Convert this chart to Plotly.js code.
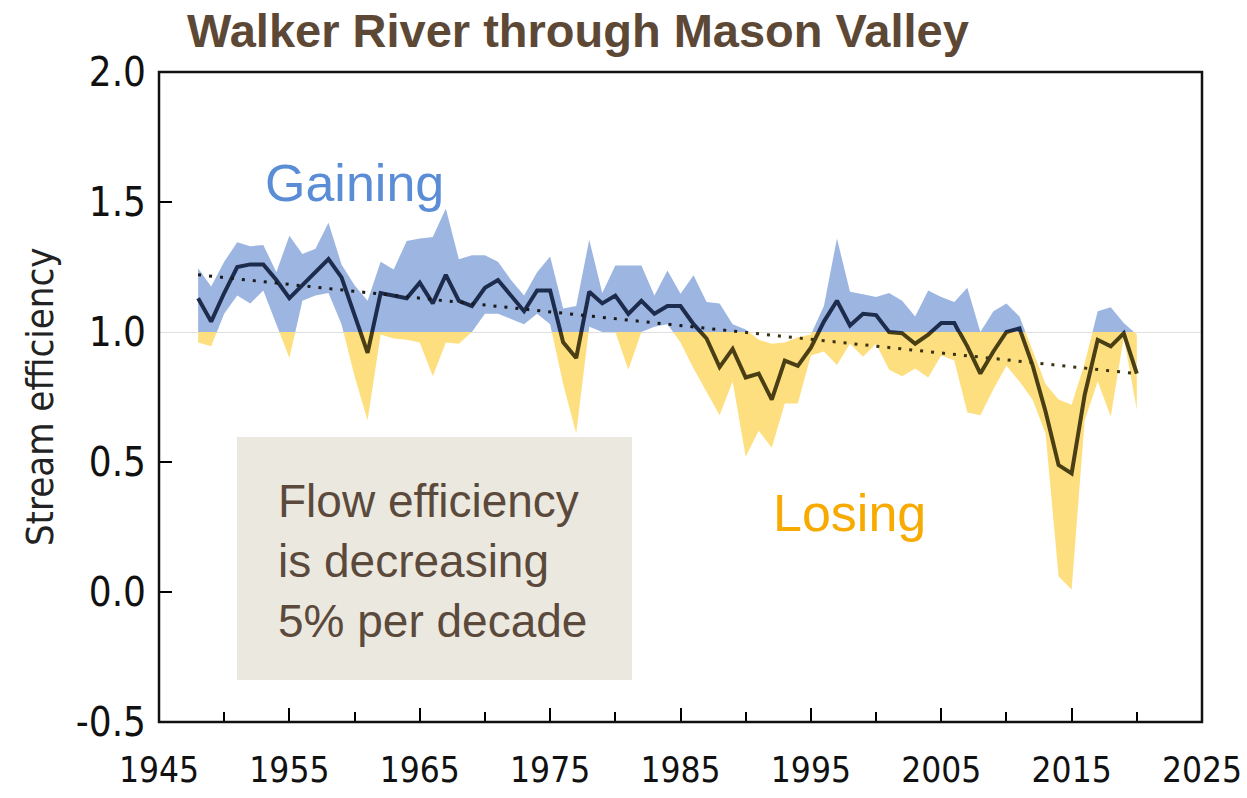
<!DOCTYPE html>
<html>
<head>
<meta charset="utf-8">
<script src="https://cdn.plot.ly/plotly-3.0.1.min.js"></script>
<style>html,body{margin:0;padding:0;background:#fff;}#chart{width:1247px;height:798px;}</style>
</head>
<body>
<div id="chart"></div>
<script>
// ---- data ----
const years = [1948,1949,1950,1951,1952,1953,1954,1955,1956,1957,1958,1959,1960,1961,1962,1963,1964,1965,1966,1967,1968,1969,1970,1971,1972,1973,1974,1975,1976,1977,1978,1979,1980,1981,1982,1983,1984,1985,1986,1987,1988,1989,1990,1991,1992,1993,1994,1995,1996,1997,1998,1999,2000,2001,2002,2003,2004,2005,2006,2007,2008,2009,2010,2011,2012,2013,2014,2015,2016,2017,2018,2019,2020];
const efficiency = [1.13,1.04,1.15,1.25,1.26,1.26,1.20,1.13,1.18,1.23,1.28,1.21,1.06,0.92,1.15,1.14,1.13,1.19,1.11,1.22,1.12,1.10,1.17,1.20,1.14,1.08,1.16,1.16,0.96,0.90,1.155,1.11,1.14,1.07,1.12,1.07,1.10,1.10,1.03,0.975,0.865,0.935,0.825,0.84,0.74,0.89,0.87,0.94,1.04,1.12,1.025,1.07,1.065,1.00,0.995,0.955,0.99,1.035,1.035,0.945,0.84,0.925,1.00,1.014,0.873,0.694,0.488,0.456,0.758,0.97,0.945,0.995,0.84];
const upperBound = [1.245,1.175,1.27,1.345,1.33,1.335,1.23,1.37,1.30,1.32,1.42,1.26,1.18,1.12,1.27,1.24,1.35,1.36,1.365,1.475,1.28,1.295,1.295,1.27,1.20,1.14,1.23,1.29,1.09,1.10,1.355,1.15,1.256,1.256,1.256,1.14,1.237,1.147,1.218,1.115,1.11,1.03,1.01,0.97,0.955,0.96,0.98,0.99,1.10,1.36,1.155,1.145,1.135,1.15,1.12,1.06,1.16,1.135,1.115,1.17,1.0,1.08,1.11,1.06,0.93,0.80,0.74,0.72,0.88,1.08,1.095,1.035,0.99];
const lowerBound = [0.96,0.945,1.07,1.14,1.11,1.16,1.03,0.90,1.12,1.14,1.15,1.03,0.83,0.66,0.99,0.975,0.97,0.96,0.83,0.96,0.955,1.0,1.07,1.07,1.05,1.03,1.07,1.03,0.80,0.61,1.02,1.0,1.0,0.855,1.0,1.02,1.03,0.96,0.86,0.77,0.68,0.81,0.52,0.62,0.555,0.725,0.725,0.91,0.925,0.873,0.955,0.905,0.955,0.855,0.83,0.86,0.825,0.91,0.89,0.69,0.68,0.78,0.87,0.81,0.74,0.61,0.06,0.01,0.66,0.81,0.675,0.98,0.70];
const trendYears = [1948, 2020];
const trendValues = [1.22, 0.84];
const xTickVals = [1945,1955,1965,1975,1985,1995,2005,2015,2025];
const yTickValsUpper = [1.5, 2.0];
const yTickTextUpper = ['1.5','2.0'];
const yTickValsLower = [-0.5, 0.0, 0.5, 1.0];
const yTickTextLower = ['-0.5','0.0','0.5','1.0'];

const BLUE = '#9db6e1', YELLOW = '#fedf80';
const NAVY = '#1d2c4c', OLIVE = '#4a3f14';
const narrow = "'Liberation Sans Narrow','Arial Narrow','DejaVu Sans Condensed',sans-serif";
const sans = "'Liberation Sans',Arial,sans-serif";

function band(yaxis, color) {
  return [
    {x: years, y: lowerBound, type:'scatter', mode:'lines', line:{width:0, color:color}, yaxis: yaxis, hoverinfo:'skip', showlegend:false},
    {x: years, y: upperBound, type:'scatter', mode:'lines', line:{width:0, color:color}, fill:'tonexty', fillcolor: color, yaxis: yaxis, hoverinfo:'skip', showlegend:false}
  ];
}
function lines(yaxis, lc, tc) {
  return [
    {x: years, y: efficiency, type:'scatter', mode:'lines', line:{width:4, color: lc}, yaxis: yaxis, showlegend:false},
    {x: trendYears, y: trendValues, type:'scatter', mode:'lines', line:{width:3, color: tc, dash:'3px,8px'}, yaxis: yaxis, showlegend:false}
  ];
}

const data = [].concat(band('y', BLUE), band('y2', YELLOW), lines('y', NAVY, '#1a1a1a'), lines('y2', OLIVE, '#3a3212'));

const yTickFont = {family: narrow, size: 40, color: '#111'};
const xTickFont = {family: narrow, size: 35, color: '#111'};
const layout = {
  width: 1247, height: 798,
  margin: {l:159, r:45, t:72, b:76},
  paper_bgcolor:'#ffffff', plot_bgcolor:'#ffffff',
  showlegend:false,
  title: {text:'Walker River through Mason Valley', font:{family:sans, size:47, color:'#5d4836', weight:'bold'},
          x: 0.4635, xref:'container', xanchor:'center', y: 0.962, yref:'container', yanchor:'middle'},
  xaxis: {range:[1945,2025], anchor:'y2', domain:[0,1], showgrid:false, zeroline:false, showline:false,
          tickmode:'array', tickvals: xTickVals, ticktext: xTickVals.map(String),
          ticks:'inside', ticklen:14, tickwidth:2, tickcolor:'#000', ticklabelstandoff: 24, ticklabeloverflow:'allow',
          minor:{ticks:'inside', ticklen:10, tickwidth:2, tickcolor:'#000', dtick:5, tick0:1945},
          tickfont: xTickFont},
  yaxis: {range:[1.0,2.0], domain:[0.6,1], anchor:'x', showgrid:false, zeroline:false, showline:false,
          tickmode:'array', tickvals: yTickValsUpper, ticktext: yTickTextUpper,
          ticks:'inside', ticklen:13, tickwidth:2, tickcolor:'#000', ticklabelstandoff: 12, tickfont: yTickFont},
  yaxis2: {range:[-0.5,1.0], domain:[0,0.6], anchor:'x', showgrid:false, zeroline:false, showline:false,
          tickmode:'array', tickvals: yTickValsLower, ticktext: yTickTextLower,
          ticks:'inside', ticklen:13, tickwidth:2, tickcolor:'#000', ticklabelstandoff: 12, tickfont: yTickFont},
  shapes: [
    {type:'line', xref:'paper', yref:'y2', x0:0, x1:1, y0:1, y1:1, line:{color:'#d4d4d4', width:1.5}, layer:'below'},
    {type:'rect', xref:'paper', yref:'paper', x0:0.0748, x1:0.4535, y0:0.0646, y1:0.4385, fillcolor:'#ebe8df', line:{width:0}, layer:'above'},
    {type:'rect', xref:'paper', yref:'paper', x0:0, x1:1, y0:0, y1:1, line:{color:'#111', width:2.5}, fillcolor:'rgba(0,0,0,0)', layer:'above'}
  ],
  annotations: [
    {text:'Stream efficiency', xref:'paper', yref:'paper', x:-0.114, y:0.5, textangle:-90, showarrow:false,
     xanchor:'center', yanchor:'middle', font:{family:narrow, size:38, color:'#222'}},
    {text:'Gaining', xref:'paper', yref:'paper', x:0.187, y:0.829, showarrow:false, xanchor:'center', yanchor:'middle',
     font:{family:sans, size:52, color:'#5a8dd6'}},
    {text:'Losing', xref:'paper', yref:'paper', x:0.6625, y:0.3215, showarrow:false, xanchor:'center', yanchor:'middle',
     font:{family:sans, size:52, color:'#f7ab00'}},
    {text:'Flow efficiency<br>is decreasing<br>5% per decade', xref:'paper', yref:'paper', x:0.1122, y:0.2477,
     showarrow:false, xanchor:'left', yanchor:'middle', align:'left',
     font:{family:sans, size:46, color:'#5b4a3c'}}
  ]
};

Plotly.newPlot('chart', data, layout, {displayModeBar:false, staticPlot:true});
</script>
</body>
</html>
